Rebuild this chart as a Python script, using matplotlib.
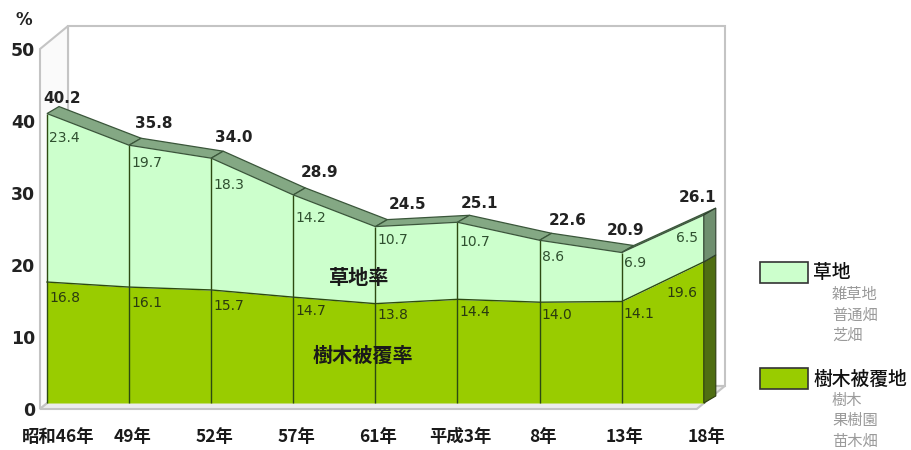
import numpy as np
import matplotlib
matplotlib.use("Agg")
import matplotlib.pyplot as plt
from matplotlib.patches import Polygon, Rectangle

plt.rcParams["font.family"] = ["Noto Sans CJK JP", "DejaVu Sans"]

# ---- data -------------------------------------------------------------
years = ["昭和46年", "49年", "52年", "57年", "61年", "平成3年", "8年", "13年", "18年"]
tree_cover = [16.8, 16.1, 15.7, 14.7, 13.8, 14.4, 14.0, 14.1, 19.6]   # 樹木被覆率
grass = [23.4, 19.7, 18.3, 14.2, 10.7, 10.7, 8.6, 6.9, 6.5]           # 草地率
total = [40.2, 35.8, 34.0, 28.9, 24.5, 25.1, 22.6, 20.9, 26.1]        # 合計
y_ticks = [0, 10, 20, 30, 40, 50]
legend_main = ["草地", "樹木被覆地"]
legend_sub = [["雑草地", "普通畑", "芝畑"], ["樹木", "果樹園", "苗木畑"]]

# ---- layout -----------------------------------------------------------
W, H = 912, 450
CAT_PX = 82.1      # pixels per category step
X0_PX = 47         # first category, pixels from left
UNIT_PX = 7.2      # pixels per percent
Y0_PX = 47         # zero line, pixels from bottom
YMAX = 50

# depth planes of the pseudo-3D box (pixel shift right, up)
FRONT = (-7, -6)
S_FRONT = (0, 0)
S_BACK = (12, 7)
BACK = (21, 17)

C_TREE = "#99cc00"
C_GRASS = "#ccffcc"
C_TOP = "#84a884"
C_EDGE = "#2d4a12"
C_WALL = "#c4c4c4"

fig = plt.figure(figsize=(W / 100, H / 100), dpi=100)
ax = fig.add_axes([0, 0, 1, 1])
ax.set_axis_off()
ax.set_xlim(-X0_PX / CAT_PX, (W - X0_PX) / CAT_PX)
ax.set_ylim(-Y0_PX / UNIT_PX, (H - Y0_PX) / UNIT_PX)


def pt(i, v, plane=S_FRONT):
    return (i + plane[0] / CAT_PX, v + plane[1] / UNIT_PX)


n = len(years)
xs = np.arange(n)
last = n - 1

# ---- box walls ----------------------------------------------------------
ax.add_patch(Polygon([pt(0, 0, BACK), pt(0, YMAX, BACK), pt(last, YMAX, BACK), pt(last, 0, BACK)],
                     closed=True, fc="white", ec=C_WALL, lw=1.5, zorder=1))
ax.add_patch(Polygon([pt(0, 0, FRONT), pt(0, YMAX, FRONT), pt(0, YMAX, BACK), pt(0, 0, BACK)],
                     closed=True, fc="#fafafa", ec=C_WALL, lw=1.5, zorder=1))
ax.add_patch(Polygon([pt(0, 0, FRONT), pt(last, 0, FRONT), pt(last, 0, BACK), pt(0, 0, BACK)],
                     closed=True, fc="#ececec", ec=C_WALL, lw=1.5, zorder=1))

# ---- stacked area, front face ------------------------------------------
ax.fill_between(xs, 0, tree_cover, color=C_TREE, lw=0, zorder=2)
ax.fill_between(xs, tree_cover, total, color=C_GRASS, lw=0, zorder=2)
ax.plot(xs, tree_cover, color=C_EDGE, lw=1.0, zorder=3)
ax.vlines(xs, 0, total, color=C_EDGE, lw=1.0, zorder=3)

# top surface ribbon
for i in range(n - 1):
    ax.add_patch(Polygon([pt(i, total[i]), pt(i + 1, total[i + 1]),
                          pt(i + 1, total[i + 1], S_BACK), pt(i, total[i], S_BACK)],
                         closed=True, fc=C_TOP, ec="#3a563a", lw=0.9, zorder=4))

# right side faces
ax.add_patch(Polygon([pt(last, 0), pt(last, tree_cover[last]),
                      pt(last, tree_cover[last], S_BACK), pt(last, 0, S_BACK)],
                     closed=True, fc="#4f6e12", ec="#2d3d10", lw=0.8, zorder=4))
ax.add_patch(Polygon([pt(last, tree_cover[last]), pt(last, total[last]),
                      pt(last, total[last], S_BACK), pt(last, tree_cover[last], S_BACK)],
                     closed=True, fc="#6f8f6f", ec="#2d3d2d", lw=0.8, zorder=4))

# ---- value labels -------------------------------------------------------
total_shift = [(15, 15), (25, 22), (23, 21), (26, 22), (32, 22), (22, 19), (28, 20), (4, 22), (-6, 18)]
grass_shift = [24, 18, 27, 23, 13, 20, 17, 10, 23]
tree_shift = [16, 16, 16, 14, 11, 13, 13, 13, 31]

for i in range(n):
    ax.annotate(f"{total[i]:.1f}", xy=(i, total[i]), xytext=total_shift[i],
                textcoords="offset pixels", ha="center", va="center",
                fontsize=11, fontweight="bold", family="DejaVu Sans",
                color="#222222", zorder=6)
    if i < last:
        gx, gha, tx = 2, "left", 2
    else:
        gx, gha, tx = -6, "right", -6
    ax.annotate(f"{grass[i]:.1f}", xy=(i, total[i]), xytext=(gx, -grass_shift[i]),
                textcoords="offset pixels", ha=gha, va="center",
                fontsize=10, family="DejaVu Sans", color="#2f4f2f", zorder=6)
    ax.annotate(f"{tree_cover[i]:.1f}", xy=(i, tree_cover[i]), xytext=(tx, -tree_shift[i]),
                textcoords="offset pixels", ha=gha, va="center",
                fontsize=10, family="DejaVu Sans", color="#2a3a10", zorder=6)

ax.text(3.80, 17.5, "草地率", ha="center", va="center", fontsize=14.5,
        fontweight="bold", color="#1a1a1a", zorder=6)
ax.text(3.85, 6.67, "樹木被覆率", ha="center", va="center", fontsize=14.5,
        fontweight="bold", color="#1a1a1a", zorder=6)

# ---- axis labels --------------------------------------------------------
for t in y_ticks:
    ax.annotate(str(t), xy=pt(0, t, FRONT), xytext=(-5, -2), textcoords="offset pixels",
                ha="right", va="center", fontsize=12.5, fontweight="bold",
                family="DejaVu Sans", color="#222222")
ax.annotate("%", xy=pt(0, YMAX, FRONT), xytext=(-16, 29), textcoords="offset pixels",
            ha="center", va="center", fontsize=12, fontweight="bold",
            family="DejaVu Sans", color="#222222")

for i, lab in enumerate(years):
    shift = 11 if i == 0 else 3
    ax.annotate(lab, xy=(i, 0), xytext=(shift, -34), textcoords="offset pixels",
                ha="center", va="center", fontsize=12.5, fontweight="bold", color="#1a1a1a")

# ---- legend -------------------------------------------------------------
def fx(px):
    return px / W


def fy(px_from_top):
    return 1 - px_from_top / H


legend_colors = [C_GRASS, C_TREE]
legend_top = [262, 368]
for k in range(2):
    top = legend_top[k]
    fig.add_artist(Rectangle((fx(760), fy(top + 21)), fx(48), 21 / H,
                             transform=fig.transFigure, fc=legend_colors[k],
                             ec="#333333", lw=1.2))
    fig.text(fx(813), fy(top + 11), legend_main[k], ha="left", va="center",
             fontsize=13.5, fontweight="medium", color="#111111")
    for j, s in enumerate(legend_sub[k]):
        fig.text(fx(832), fy(top + 33 + 20 * j), s, ha="left", va="center",
                 fontsize=11, color="#9a9a9a")

fig.savefig("out.png", dpi=100)
